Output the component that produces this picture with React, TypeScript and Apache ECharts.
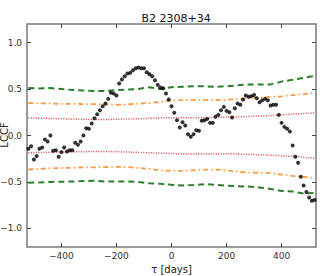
import React, { useEffect, useRef } from "react";
import * as echarts from "echarts";

const TITLE = "B2 2308+34";
const Y_NAME = "LCCF";
const X_NAME = "\u03c4 [days]";
const X_TICKS = [-400, -200, 0, 200, 400];
const Y_TICKS = [-1, -0.5, 0, 0.5, 1];

// LCCF points, tau = -520 .. 520 step 10
const TAU_START = -520;
const TAU_STEP = 10;
const LCCF = [
  -0.143, -0.115, -0.258, -0.222, -0.143, -0.129, -0.043, -0.065, 0.0, -0.165,
  -0.158, -0.229, -0.179, -0.129, -0.172, -0.158, -0.158, -0.079, -0.1, -0.065,
  0.0, 0.079, 0.072, 0.129, 0.186, 0.229, 0.272, 0.315, 0.344, 0.394,
  0.459, 0.452, 0.43, 0.559, 0.602, 0.638, 0.667, 0.674, 0.703, 0.724,
  0.731, 0.724, 0.724, 0.681, 0.659, 0.638, 0.595, 0.545, 0.516, 0.509,
  0.452, 0.387, 0.315, 0.244, 0.165, 0.086, 0.143, 0.108, 0.014, -0.014,
  0.014, 0.057, 0.05, 0.158, 0.165, 0.179, 0.136, 0.136, 0.201, 0.222,
  0.272, 0.308, 0.265, 0.251, 0.193, 0.294, 0.344, 0.33, 0.387, 0.43,
  0.416, 0.423, 0.437, 0.401, 0.358, 0.38, 0.394, 0.38, 0.323, 0.33,
  0.33, 0.222, 0.136, 0.093, 0.072, 0.043, -0.108, -0.229, -0.294, -0.444,
  -0.538, -0.609, -0.667, -0.703, -0.695,
];

// significance levels, tau = -520 .. 520 step 40
const LEVEL_START = -520;
const LEVEL_STEP = 40;
const GREEN_UP = [0.51, 0.505, 0.51, 0.5, 0.49, 0.485, 0.48, 0.48, 0.49, 0.495, 0.5, 0.52, 0.5, 0.52, 0.525, 0.53, 0.53, 0.525, 0.53, 0.54, 0.55, 0.55, 0.55, 0.58, 0.6, 0.62, 0.64];
const ORANGE_UP = [0.35, 0.345, 0.345, 0.34, 0.34, 0.338, 0.337, 0.335, 0.33, 0.335, 0.343, 0.35, 0.36, 0.375, 0.38, 0.38, 0.38, 0.38, 0.385, 0.39, 0.4, 0.41, 0.415, 0.42, 0.435, 0.445, 0.46];
const RED_UP = [0.19, 0.186, 0.183, 0.18, 0.177, 0.175, 0.172, 0.172, 0.175, 0.178, 0.18, 0.185, 0.19, 0.192, 0.19, 0.19, 0.19, 0.195, 0.198, 0.2, 0.205, 0.21, 0.215, 0.222, 0.23, 0.237, 0.244];
const RED_LO = [-0.186, -0.183, -0.18, -0.178, -0.176, -0.174, -0.172, -0.172, -0.175, -0.178, -0.182, -0.186, -0.19, -0.194, -0.197, -0.2, -0.2, -0.197, -0.195, -0.198, -0.203, -0.208, -0.212, -0.218, -0.224, -0.234, -0.244];
const ORANGE_LO = [-0.366, -0.36, -0.352, -0.35, -0.347, -0.344, -0.342, -0.34, -0.337, -0.34, -0.35, -0.36, -0.375, -0.38, -0.38, -0.375, -0.368, -0.367, -0.375, -0.39, -0.4, -0.4, -0.405, -0.42, -0.435, -0.445, -0.459];
const GREEN_LO = [-0.509, -0.505, -0.5, -0.497, -0.495, -0.49, -0.487, -0.495, -0.495, -0.495, -0.5, -0.515, -0.52, -0.53, -0.537, -0.533, -0.523, -0.53, -0.54, -0.545, -0.55, -0.559, -0.575, -0.597, -0.602, -0.625, -0.617];

const minus = (s: string) => s.replace("-", "\u2212");

export default function App() {
  const ref = useRef<HTMLDivElement>(null);
  useEffect(() => {
    document.body.style.margin = "0";
    const chart = echarts.init(ref.current!, null, { renderer: "svg" });
    const pts = LCCF.map((v, i) => [TAU_START + i * TAU_STEP, v]);
    const lvl = (arr: number[]) => arr.map((v, i) => [LEVEL_START + i * LEVEL_STEP, v]);
    const font = "DejaVu Sans";
    const tickColor = "#333";
    const lineSeries = (data: number[], color: string, type: any, width: number) => ({
      type: "line",
      data: lvl(data),
      symbol: "none",
      smooth: false,
      silent: true,
      lineStyle: { color, type, width },
      z: 2,
    });
    const xBase = {
      type: "value",
      min: -525,
      max: 525,
      axisLine: { show: false, onZero: false },
      splitLine: { show: false },
      axisTick: { show: true, inside: true, length: 4, customValues: X_TICKS, lineStyle: { color: "#444" } },
    };
    const yBase = {
      type: "value",
      min: -1.2,
      max: 1.2,
      axisLine: { show: false, onZero: false },
      splitLine: { show: false },
      axisTick: { show: true, inside: true, length: 4, customValues: Y_TICKS, lineStyle: { color: "#444" } },
    };
    chart.setOption({
      animation: false,
      title: {
        text: TITLE,
        left: 171,
        textAlign: "center",
        top: 8,
        textStyle: { fontFamily: font, fontSize: 11, fontWeight: "normal", color: "#111" },
      },
      grid: {
        left: 27,
        right: 18,
        top: 24,
        bottom: 29,
        show: true,
        borderColor: "#7a7a7a",
        borderWidth: 1.5,
        backgroundColor: "transparent",
        outerBoundsMode: "none",
      },
      graphic: [
        {
          type: "text",
          x: 4,
          y: 135,
          rotation: Math.PI / 2,
          style: {
            text: Y_NAME,
            fontFamily: font,
            fontSize: 10,
            fill: "#222",
            align: "center",
            verticalAlign: "middle",
          },
        },
      ],
      xAxis: [
        {
          ...xBase,
          position: "bottom",
          name: X_NAME,
          nameLocation: "middle",
          nameGap: 17,
          nameTextStyle: { fontFamily: font, fontSize: 10, color: "#222" },
          axisLabel: {
            show: true,
            customValues: X_TICKS,
            fontFamily: font,
            fontSize: 9,
            color: tickColor,
            margin: 4,
            formatter: (v: number) => minus(String(v)),
          },
        },
        { ...xBase, position: "top", axisLabel: { show: false } },
      ],
      yAxis: [
        {
          ...yBase,
          position: "left",
          axisLabel: {
            show: true,
            customValues: Y_TICKS,
            fontFamily: font,
            fontSize: 9,
            color: tickColor,
            margin: 5,
            formatter: (v: number) => minus(v.toFixed(1)),
          },
        },
        { ...yBase, position: "right", axisLabel: { show: false } },
      ],
      series: [
        lineSeries(RED_UP, "#d9474a", [1, 1.5], 1.5),
        lineSeries(RED_LO, "#d9474a", [1, 1.5], 1.5),
        lineSeries(ORANGE_UP, "#ff9a3c", [5, 3, 1.5, 3], 1.8),
        lineSeries(ORANGE_LO, "#ff9a3c", [5, 3, 1.5, 3], 1.8),
        lineSeries(GREEN_UP, "#2a7f2a", [6, 4], 2),
        lineSeries(GREEN_LO, "#2a7f2a", [6, 4], 2),
        {
          type: "scatter",
          data: pts,
          symbol: "circle",
          symbolSize: 4,
          itemStyle: { color: "#000" },
          z: 5,
        },
      ],
    });
    return () => chart.dispose();
  }, []);
  return <div ref={ref} style={{ position: "absolute", left: 0, top: 0, width: 334, height: 276 }} />;
}
